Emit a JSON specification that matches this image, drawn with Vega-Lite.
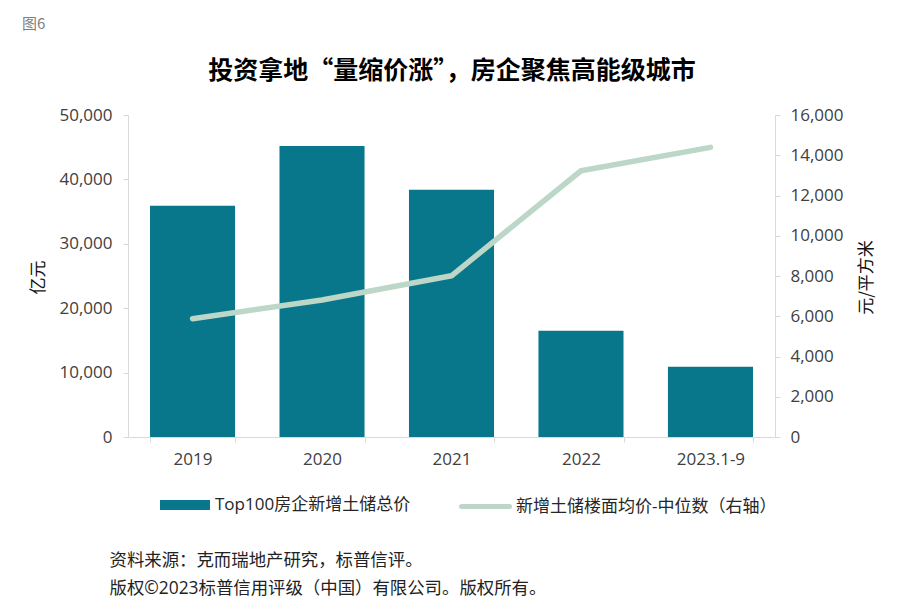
{
  "$schema": "https://vega.github.io/schema/vega-lite/v6.json",
  "width": 647,
  "height": 322,
  "autosize": {"type": "none"},
  "padding": {"left": 128, "top": 115, "right": 127, "bottom": 175},
  "background": "#ffffff",
  "title": {
    "text": "图6",
    "anchor": "start",
    "frame": "group",
    "dx": -106,
    "offset": 26,
    "font": "Noto Sans CJK SC",
    "fontSize": 15,
    "fontWeight": "normal",
    "color": "#7f7f7f"
  },
  "data": {
    "values": [
      {"year": "2019", "total": 35900, "price": 5880},
      {"year": "2020", "total": 45200, "price": 6810},
      {"year": "2021", "total": 38400, "price": 8010},
      {"year": "2022", "total": 16500, "price": 13230},
      {"year": "2023.1-9", "total": 10900, "price": 14390}
    ]
  },
  "config": {
    "view": {"stroke": null},
    "axis": {
      "grid": false,
      "domainColor": "#d9d9d9",
      "tickColor": "#d9d9d9",
      "labelColor": "#404040",
      "labelFont": "Open Sans",
      "labelFontSize": 17,
      "titleFont": "Noto Sans CJK SC",
      "titleFontWeight": "normal",
      "titleColor": "#111111"
    },
    "legend": {
      "labelFont": "Open Sans, Noto Sans CJK SC",
      "labelFontSize": 17,
      "labelColor": "#262626",
      "labelLimit": 0,
      "padding": 0
    }
  },
  "layer": [
    {
      "mark": {"type": "bar", "color": "#09778B"},
      "encoding": {
        "x": {
          "field": "year",
          "type": "ordinal",
          "sort": null,
          "scale": {"paddingInner": 0.343, "paddingOuter": 0.17},
          "axis": {
            "orient": "bottom",
            "labelAngle": 0,
            "tickBand": "extent",
            "tickSize": 5,
            "labelPadding": 9,
            "title": ["资料来源：克而瑞地产研究，标普信评。", "版权©2023标普信用评级（中国）有限公司。版权所有。"],
            "titleFont": "Open Sans, Noto Sans CJK SC",
            "titleFontSize": 17.4,
            "titleColor": "#222222",
            "titleLineHeight": 28,
            "titleAlign": "left",
            "titleAnchor": "start",
            "titleBaseline": "alphabetic",
            "titleX": -19,
            "titleY": 128
          }
        },
        "y": {
          "field": "total",
          "type": "quantitative",
          "scale": {"domain": [0, 50000], "nice": false},
          "axis": {
            "orient": "left",
            "values": [0, 10000, 20000, 30000, 40000, 50000],
            "format": ",.0f",
            "tickSize": 5,
            "labelPadding": 11,
            "title": "亿元",
            "titleFontSize": 17,
            "titleAngle": -90,
            "titleAlign": "center",
            "titleBaseline": "middle",
            "titleX": -90,
            "titleY": 162
          }
        },
        "color": {
          "datum": "Top100房企新增土储总价",
          "scale": {"range": ["#09778B"]},
          "legend": {
            "orient": "none",
            "legendX": 32,
            "legendY": 365,
            "title": null,
            "symbolType": "M-1,-0.2H1V0.2H-1Z",
            "symbolSize": 2500,
            "symbolStrokeWidth": 0,
            "labelOffset": 5
          }
        }
      }
    },
    {
      "mark": {"type": "line", "strokeWidth": 5.5, "strokeCap": "round", "strokeJoin": "round"},
      "encoding": {
        "x": {
          "field": "year",
          "type": "ordinal",
          "sort": null,
          "axis": {
            "orient": "top",
            "labels": false,
            "ticks": false,
            "domain": false,
            "title": "投资拿地“量缩价涨”，房企聚焦高能级城市",
            "titleFont": "Noto Sans CJK SC",
            "titleFontSize": 25,
            "titleFontWeight": "bold",
            "titleColor": "#000000",
            "titleAlign": "center",
            "titleBaseline": "alphabetic",
            "titleX": 323.5,
            "titleY": -37
          }
        },
        "y": {
          "field": "price",
          "type": "quantitative",
          "scale": {"domain": [0, 16000], "nice": false},
          "axis": {
            "orient": "right",
            "values": [0, 2000, 4000, 6000, 8000, 10000, 12000, 14000, 16000],
            "format": ",.0f",
            "tickSize": 5,
            "labelPadding": 10,
            "title": "元/平方米",
            "titleFontSize": 17,
            "titleAngle": -90,
            "titleAlign": "center",
            "titleBaseline": "middle",
            "titleX": 91,
            "titleY": 162
          }
        },
        "stroke": {
          "datum": "新增土储楼面均价-中位数（右轴）",
          "scale": {"range": ["#BCD7C7"]},
          "legend": {
            "orient": "none",
            "legendX": 331,
            "legendY": 365,
            "title": null,
            "symbolType": "stroke",
            "symbolSize": 2304,
            "symbolStrokeWidth": 5,
            "labelOffset": 4,
            "encode": {"symbols": {"update": {"strokeCap": {"value": "round"}}}}
          }
        }
      }
    }
  ],
  "resolve": {
    "scale": {"y": "independent"},
    "axis": {"x": "independent", "y": "independent"}
  }
}
